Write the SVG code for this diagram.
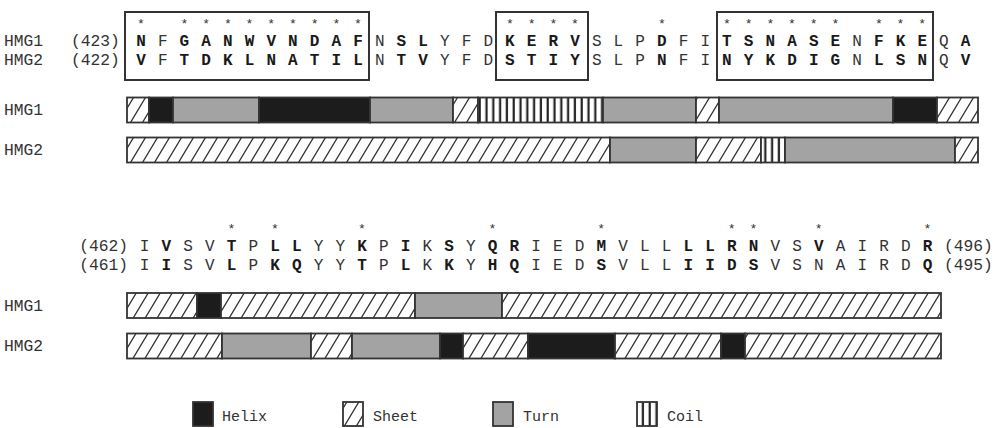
<svg xmlns="http://www.w3.org/2000/svg" width="995" height="428" viewBox="0 0 995 428">
<defs>
<pattern id="sheet" patternUnits="userSpaceOnUse" width="12" height="20">
<rect width="12" height="20" fill="#fff"/>
<path d="M0,20 L12,0 M-1.2,2 L1.2,-2 M10.8,22 L13.2,18" stroke="#333" stroke-width="1.3" fill="none"/>
</pattern>
<pattern id="coil" patternUnits="userSpaceOnUse" width="6.8" height="20">
<rect width="6.8" height="20" fill="#fff"/>
<rect x="2.6" y="0" width="2.2" height="20" fill="#222"/>
</pattern>
<style>
text{font-family:"Liberation Mono","Courier New",monospace;fill:#333}
.seq{font-size:16px;text-anchor:middle}
.b{font-weight:bold;fill:#1a1a1a}
.lab{font-size:16.3px}
.star{font-size:13px;text-anchor:middle}
.leg{font-size:15px}
.box{fill:none;stroke:#333;stroke-width:2}
.seg{stroke:#333;stroke-width:1.8}
.h{fill:#1c1c1c}
.s{fill:url(#sheet)}
.t{fill:#a3a3a3}
.c{fill:url(#coil)}
</style>
</defs>
<rect width="995" height="428" fill="#fff"/>

<g id="block1">
<rect class="box" x="125" y="12" width="244" height="68"/>
<rect class="box" x="496" y="12" width="92" height="68"/>
<rect class="box" x="717" y="12" width="216" height="68"/>
<text class="lab" x="4" y="46">HMG1 <tspan x="71">(423)</tspan></text>
<text class="lab" x="4" y="64.5">HMG2 <tspan x="71">(422)</tspan></text>
<text class="star" y="28"><tspan x="141">*</tspan><tspan x="184.4">*</tspan><tspan x="206.1">*</tspan><tspan x="227.8">*</tspan><tspan x="249.5">*</tspan><tspan x="271.2">*</tspan><tspan x="292.9">*</tspan><tspan x="314.6">*</tspan><tspan x="336.3">*</tspan><tspan x="358">*</tspan><tspan x="509.9">*</tspan><tspan x="531.6">*</tspan><tspan x="553.3">*</tspan><tspan x="575">*</tspan><tspan x="661.8">*</tspan><tspan x="726.9">*</tspan><tspan x="748.6">*</tspan><tspan x="770.3">*</tspan><tspan x="792">*</tspan><tspan x="813.7">*</tspan><tspan x="835.4">*</tspan><tspan x="878.8">*</tspan><tspan x="900.5">*</tspan><tspan x="922.2">*</tspan></text>
<text class="seq" y="46"><tspan class="b" x="141">N</tspan><tspan x="162.7">F</tspan><tspan class="b" x="184.4">G</tspan><tspan class="b" x="206.1">A</tspan><tspan class="b" x="227.8">N</tspan><tspan class="b" x="249.5">W</tspan><tspan class="b" x="271.2">V</tspan><tspan class="b" x="292.9">N</tspan><tspan class="b" x="314.6">D</tspan><tspan class="b" x="336.3">A</tspan><tspan class="b" x="358">F</tspan><tspan x="379.7">N</tspan><tspan class="b" x="401.4">S</tspan><tspan class="b" x="423.1">L</tspan><tspan x="444.8">Y</tspan><tspan x="466.5">F</tspan><tspan x="488.2">D</tspan><tspan class="b" x="509.9">K</tspan><tspan class="b" x="531.6">E</tspan><tspan class="b" x="553.3">R</tspan><tspan class="b" x="575">V</tspan><tspan x="596.7">S</tspan><tspan x="618.4">L</tspan><tspan x="640.1">P</tspan><tspan class="b" x="661.8">D</tspan><tspan x="683.5">F</tspan><tspan x="705.2">I</tspan><tspan class="b" x="726.9">T</tspan><tspan class="b" x="748.6">S</tspan><tspan class="b" x="770.3">N</tspan><tspan class="b" x="792">A</tspan><tspan class="b" x="813.7">S</tspan><tspan class="b" x="835.4">E</tspan><tspan x="857.1">N</tspan><tspan class="b" x="878.8">F</tspan><tspan class="b" x="900.5">K</tspan><tspan class="b" x="922.2">E</tspan><tspan x="943.9">Q</tspan><tspan class="b" x="965.6">A</tspan></text>
<text class="seq" y="64.5"><tspan class="b" x="141">V</tspan><tspan x="162.7">F</tspan><tspan class="b" x="184.4">T</tspan><tspan class="b" x="206.1">D</tspan><tspan class="b" x="227.8">K</tspan><tspan class="b" x="249.5">L</tspan><tspan class="b" x="271.2">N</tspan><tspan class="b" x="292.9">A</tspan><tspan class="b" x="314.6">T</tspan><tspan class="b" x="336.3">I</tspan><tspan class="b" x="358">L</tspan><tspan x="379.7">N</tspan><tspan class="b" x="401.4">T</tspan><tspan class="b" x="423.1">V</tspan><tspan x="444.8">Y</tspan><tspan x="466.5">F</tspan><tspan x="488.2">D</tspan><tspan class="b" x="509.9">S</tspan><tspan class="b" x="531.6">T</tspan><tspan class="b" x="553.3">I</tspan><tspan class="b" x="575">Y</tspan><tspan x="596.7">S</tspan><tspan x="618.4">L</tspan><tspan x="640.1">P</tspan><tspan class="b" x="661.8">N</tspan><tspan x="683.5">F</tspan><tspan x="705.2">I</tspan><tspan class="b" x="726.9">N</tspan><tspan class="b" x="748.6">Y</tspan><tspan class="b" x="770.3">K</tspan><tspan class="b" x="792">D</tspan><tspan class="b" x="813.7">I</tspan><tspan class="b" x="835.4">G</tspan><tspan x="857.1">N</tspan><tspan class="b" x="878.8">L</tspan><tspan class="b" x="900.5">S</tspan><tspan class="b" x="922.2">N</tspan><tspan x="943.9">Q</tspan><tspan class="b" x="965.6">V</tspan></text>
</g>

<g id="bars1">
<text class="lab" x="4" y="115">HMG1</text>
<text class="lab" x="4" y="155">HMG2</text>
<g id="bar-hmg1-a">
<rect class="seg s" x="127" y="97.5" width="22" height="25"/>
<rect class="seg h" x="149" y="97.5" width="24" height="25"/>
<rect class="seg t" x="173" y="97.5" width="86" height="25"/>
<rect class="seg h" x="259" y="97.5" width="111" height="25"/>
<rect class="seg t" x="370" y="97.5" width="83" height="25"/>
<rect class="seg s" x="453" y="97.5" width="25" height="25"/>
<rect class="seg c" x="478" y="97.5" width="125" height="25"/>
<rect class="seg t" x="603" y="97.5" width="93" height="25"/>
<rect class="seg s" x="696" y="97.5" width="23" height="25"/>
<rect class="seg t" x="719" y="97.5" width="174" height="25"/>
<rect class="seg h" x="893" y="97.5" width="44" height="25"/>
<rect class="seg s" x="937" y="97.5" width="41" height="25"/>
</g>
<g id="bar-hmg2-a">
<rect class="seg s" x="127" y="137.5" width="483" height="25"/>
<rect class="seg t" x="610" y="137.5" width="86" height="25"/>
<rect class="seg s" x="696" y="137.5" width="65" height="25"/>
<rect class="seg c" x="761" y="137.5" width="24" height="25"/>
<rect class="seg t" x="785" y="137.5" width="170" height="25"/>
<rect class="seg s" x="955" y="137.5" width="23" height="25"/>
</g>
</g>

<g id="block2">
<text class="lab" x="128" y="251" text-anchor="end">(462)</text>
<text class="lab" x="128" y="269.5" text-anchor="end">(461)</text>
<text class="lab" x="944" y="251">(496)</text>
<text class="lab" x="944" y="269.5">(495)</text>
<text class="star" y="233"><tspan x="231.5">*</tspan><tspan x="275">*</tspan><tspan x="362">*</tspan><tspan x="492.5">*</tspan><tspan x="601.25">*</tspan><tspan x="731.75">*</tspan><tspan x="753.5">*</tspan><tspan x="818.75">*</tspan><tspan x="927.5">*</tspan></text>
<text class="seq" y="251"><tspan x="144.5">I</tspan><tspan class="b" x="166.25">V</tspan><tspan x="188">S</tspan><tspan x="209.75">V</tspan><tspan class="b" x="231.5">T</tspan><tspan x="253.25">P</tspan><tspan class="b" x="275">L</tspan><tspan class="b" x="296.75">L</tspan><tspan x="318.5">Y</tspan><tspan x="340.25">Y</tspan><tspan class="b" x="362">K</tspan><tspan x="383.75">P</tspan><tspan class="b" x="405.5">I</tspan><tspan x="427.25">K</tspan><tspan class="b" x="449">S</tspan><tspan x="470.75">Y</tspan><tspan class="b" x="492.5">Q</tspan><tspan class="b" x="514.25">R</tspan><tspan x="536">I</tspan><tspan x="557.75">E</tspan><tspan x="579.5">D</tspan><tspan class="b" x="601.25">M</tspan><tspan x="623">V</tspan><tspan x="644.75">L</tspan><tspan x="666.5">L</tspan><tspan class="b" x="688.25">L</tspan><tspan class="b" x="710">L</tspan><tspan class="b" x="731.75">R</tspan><tspan class="b" x="753.5">N</tspan><tspan x="775.25">V</tspan><tspan x="797">S</tspan><tspan class="b" x="818.75">V</tspan><tspan x="840.5">A</tspan><tspan x="862.25">I</tspan><tspan x="884">R</tspan><tspan x="905.75">D</tspan><tspan class="b" x="927.5">R</tspan></text>
<text class="seq" y="269.5"><tspan x="144.5">I</tspan><tspan class="b" x="166.25">I</tspan><tspan x="188">S</tspan><tspan x="209.75">V</tspan><tspan class="b" x="231.5">L</tspan><tspan x="253.25">P</tspan><tspan class="b" x="275">K</tspan><tspan class="b" x="296.75">Q</tspan><tspan x="318.5">Y</tspan><tspan x="340.25">Y</tspan><tspan class="b" x="362">T</tspan><tspan x="383.75">P</tspan><tspan class="b" x="405.5">L</tspan><tspan x="427.25">K</tspan><tspan class="b" x="449">K</tspan><tspan x="470.75">Y</tspan><tspan class="b" x="492.5">H</tspan><tspan class="b" x="514.25">Q</tspan><tspan x="536">I</tspan><tspan x="557.75">E</tspan><tspan x="579.5">D</tspan><tspan class="b" x="601.25">S</tspan><tspan x="623">V</tspan><tspan x="644.75">L</tspan><tspan x="666.5">L</tspan><tspan class="b" x="688.25">I</tspan><tspan class="b" x="710">I</tspan><tspan class="b" x="731.75">D</tspan><tspan class="b" x="753.5">S</tspan><tspan x="775.25">V</tspan><tspan x="797">S</tspan><tspan x="818.75">N</tspan><tspan x="840.5">A</tspan><tspan x="862.25">I</tspan><tspan x="884">R</tspan><tspan x="905.75">D</tspan><tspan class="b" x="927.5">Q</tspan></text>
</g>

<g id="bars2">
<text class="lab" x="4" y="311">HMG1</text>
<text class="lab" x="4" y="351">HMG2</text>
<g id="bar-hmg1-b">
<rect class="seg s" x="127" y="293" width="70" height="25"/>
<rect class="seg h" x="197" y="293" width="24" height="25"/>
<rect class="seg s" x="221" y="293" width="194" height="25"/>
<rect class="seg t" x="415" y="293" width="87" height="25"/>
<rect class="seg s" x="502" y="293" width="439" height="25"/>
</g>
<g id="bar-hmg2-b">
<rect class="seg s" x="127" y="333.5" width="95" height="25"/>
<rect class="seg t" x="222" y="333.5" width="89" height="25"/>
<rect class="seg s" x="311" y="333.5" width="41" height="25"/>
<rect class="seg t" x="352" y="333.5" width="88" height="25"/>
<rect class="seg h" x="440" y="333.5" width="23" height="25"/>
<rect class="seg s" x="463" y="333.5" width="65" height="25"/>
<rect class="seg h" x="528" y="333.5" width="87" height="25"/>
<rect class="seg s" x="615" y="333.5" width="106" height="25"/>
<rect class="seg h" x="721" y="333.5" width="24" height="25"/>
<rect class="seg s" x="745" y="333.5" width="196" height="25"/>
</g>
</g>

<g id="legend">
<g id="leg-helix"><rect class="seg h" x="193" y="402" width="20" height="24"/><text class="leg" x="222" y="421">Helix</text></g>
<g id="leg-sheet"><rect class="seg s" x="343" y="402" width="20" height="24"/><text class="leg" x="373" y="421">Sheet</text></g>
<g id="leg-turn"><rect class="seg t" x="493" y="402" width="20" height="24"/><text class="leg" x="523" y="421">Turn</text></g>
<g id="leg-coil"><rect class="seg c" x="637" y="402" width="20" height="24"/><text class="leg" x="667" y="421">Coil</text></g>
</g>
</svg>
